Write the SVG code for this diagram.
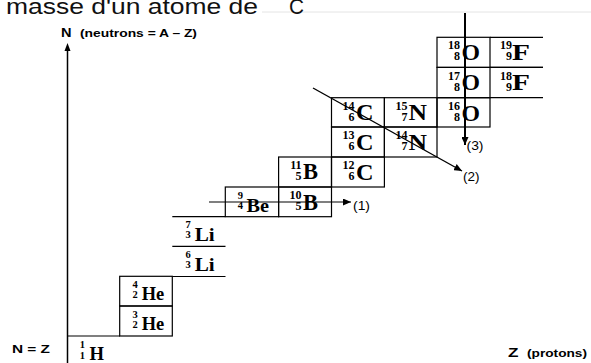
<svg xmlns="http://www.w3.org/2000/svg" width="591" height="363" viewBox="0 0 591 363">
<style>
.g{fill:none;stroke:#000;stroke-width:1.2}
.n{font-family:"Liberation Serif",serif;font-weight:bold;font-size:10.5px;text-anchor:end;fill:#000}
.m{font-family:"Liberation Serif",serif;font-weight:bold;font-size:12px;text-anchor:end;fill:#000}
.s{font-family:"Liberation Serif",serif;font-weight:bold;font-size:18px;fill:#000}
.L{font-family:"Liberation Serif",serif;font-weight:bold;font-size:23px;fill:#000}
.a{font-family:"Liberation Sans",Arial,sans-serif;font-weight:bold;fill:#000}
.lab{font-family:"Liberation Sans",Arial,sans-serif;font-size:13px;fill:#000}
.c{stroke:#000;fill:none}
</style>
<defs>
<marker id="ah" markerUnits="userSpaceOnUse" markerWidth="9" markerHeight="7" refX="8" refY="3.5" orient="auto">
<path d="M0,0 L8,3.5 L0,7 Z" fill="#000"/>
</marker>
</defs>
<rect width="591" height="363" fill="#fff"/>
<g id="title">
<line x1="262" y1="12" x2="591" y2="12" stroke="#e4e4e4" stroke-width="1"/>
<text x="6" y="13.5" font-family="Liberation Sans,Arial,sans-serif" font-size="22" fill="#111" textLength="252" lengthAdjust="spacingAndGlyphs">masse d'un atome de</text>
<text x="289" y="13.5" font-family="Liberation Sans,Arial,sans-serif" font-size="22" fill="#111" textLength="15" lengthAdjust="spacingAndGlyphs">C</text>
</g>
<g id="axes">
<line x1="67.5" y1="48" x2="67.5" y2="363" stroke="#000" stroke-width="1.5"/>
<path d="M67.5,43 L70.5,51 L64.5,51 Z" fill="#000"/>
<text class="a" x="61" y="36.5" font-size="12.5" textLength="10.5" lengthAdjust="spacingAndGlyphs">N</text>
<text class="a" x="80" y="36.5" font-size="10.5" textLength="117" lengthAdjust="spacingAndGlyphs">(neutrons = A – Z)</text>
<text class="a" x="12" y="353" font-size="11.6" textLength="38" lengthAdjust="spacingAndGlyphs">N = Z</text>
<text class="a" x="508" y="357" font-size="12.6" textLength="10.5" lengthAdjust="spacingAndGlyphs">Z</text>
<text class="a" x="527" y="357" font-size="10.7" textLength="60" lengthAdjust="spacingAndGlyphs">(protons)</text>
</g>
<g id="H1">
<line class="g" x1="67" y1="336" x2="120" y2="336"/>
<text class="n" x="85" y="347.5">1</text><text class="n" x="85" y="358.5">1</text>
<text class="s" x="89.5" y="360" textLength="14.5" lengthAdjust="spacingAndGlyphs">H</text>
</g>
<g id="He3">
<rect class="g" x="119.7" y="306" width="52.6" height="30"/>
<text class="n" x="137.7" y="317.5">3</text><text class="n" x="137.7" y="327.5">2</text>
<text class="s" x="141.7" y="330" textLength="22.5" lengthAdjust="spacingAndGlyphs">He</text>
</g>
<g id="He4">
<rect class="g" x="119.7" y="276.3" width="52.6" height="29.7"/>
<text class="n" x="137.7" y="287.5">4</text><text class="n" x="137.7" y="297.5">2</text>
<text class="s" x="141.7" y="300" textLength="22.5" lengthAdjust="spacingAndGlyphs">He</text>
</g>
<g id="Li6">
<line class="g" x1="172.3" y1="246.3" x2="225.5" y2="246.3" stroke-width="1"/>
<line class="g" x1="172.3" y1="276.5" x2="225.5" y2="276.5" stroke-width="2"/>
<text class="n" x="190.7" y="257.8">6</text><text class="n" x="190.7" y="267.8">3</text>
<text class="s" x="194.7" y="270.5" textLength="20" lengthAdjust="spacingAndGlyphs">Li</text>
</g>
<g id="Li7">
<line class="g" x1="172.3" y1="216.7" x2="225.5" y2="216.7" stroke-width="2"/>
<text class="n" x="190.7" y="228.2">7</text><text class="n" x="190.7" y="238.2">3</text>
<text class="s" x="194.7" y="240.7" textLength="20" lengthAdjust="spacingAndGlyphs">Li</text>
</g>
<g id="Be9">
<rect class="g" x="225.3" y="187" width="53.3" height="29.7"/>
<text class="n" x="243" y="198.5">9</text><text class="n" x="243" y="209">4</text>
<text class="s" x="246.5" y="212" textLength="22.5" lengthAdjust="spacingAndGlyphs">Be</text>
</g>
<g id="B10">
<rect class="g" x="278.6" y="187" width="52.9" height="29.7"/>
<text class="m" x="301.6" y="199">10</text><text class="m" x="301.6" y="210">5</text>
<text class="L" x="303.1" y="209.5" textLength="15" lengthAdjust="spacingAndGlyphs">B</text>
</g>
<g id="B11">
<rect class="g" x="278.6" y="157" width="52.9" height="30"/>
<text class="m" x="301.6" y="169">11</text><text class="m" x="301.6" y="179.5">5</text>
<text class="L" x="303.1" y="179" textLength="15" lengthAdjust="spacingAndGlyphs">B</text>
</g>
<g id="C12">
<rect class="g" x="331.5" y="157" width="52.9" height="30"/>
<text class="m" x="354.5" y="169">12</text><text class="m" x="354.5" y="180">6</text>
<text class="L" x="356" y="179.5" textLength="17.5" lengthAdjust="spacingAndGlyphs">C</text>
</g>
<g id="C13">
<rect class="g" x="331.5" y="127" width="52.9" height="30"/>
<text class="m" x="354.5" y="139">13</text><text class="m" x="354.5" y="150">6</text>
<text class="L" x="356" y="149.5" textLength="17.5" lengthAdjust="spacingAndGlyphs">C</text>
</g>
<g id="C14">
<rect class="g" x="331.5" y="97.7" width="52.9" height="29.3"/>
<text class="m" x="354.5" y="109.5">14</text><text class="m" x="354.5" y="120.5">6</text>
<text class="L" x="356" y="120" textLength="17.5" lengthAdjust="spacingAndGlyphs">C</text>
</g>
<g id="N14">
<rect class="g" x="384.4" y="127" width="52.6" height="30"/>
<text class="m" x="407.4" y="139">14</text><text class="m" x="407.4" y="150">7</text>
<text class="L" x="408.4" y="149.5" textLength="18.5" lengthAdjust="spacingAndGlyphs">N</text>
</g>
<g id="N15">
<rect class="g" x="384.4" y="97.7" width="52.6" height="29.3"/>
<text class="m" x="407.4" y="109.5">15</text><text class="m" x="407.4" y="120.5">7</text>
<text class="L" x="408.4" y="120" textLength="18.5" lengthAdjust="spacingAndGlyphs">N</text>
</g>
<g id="O16">
<rect class="g" x="437" y="97.7" width="53" height="29.3"/>
<text class="m" x="460" y="109.5">16</text><text class="m" x="460" y="121">8</text>
<text class="L" x="461.5" y="120.5" textLength="18.5" lengthAdjust="spacingAndGlyphs">O</text>
</g>
<g id="O17">
<rect class="g" x="437" y="67.4" width="53" height="30.3"/>
<text class="m" x="460" y="79.5">17</text><text class="m" x="460" y="90.5">8</text>
<text class="L" x="461.5" y="90" textLength="18.5" lengthAdjust="spacingAndGlyphs">O</text>
</g>
<g id="O18">
<rect class="g" x="437" y="37.3" width="53" height="30.1"/>
<text class="m" x="460" y="49">18</text><text class="m" x="460" y="60">8</text>
<text class="L" x="461.5" y="59.5" textLength="18.5" lengthAdjust="spacingAndGlyphs">O</text>
</g>
<g id="F18">
<path class="g" d="M490,67.4 H543 M490,97.7 H543"/>
<text class="m" x="512" y="79.5">18</text><text class="m" x="512" y="90.5">9</text>
<text class="L" x="512" y="90" textLength="18" lengthAdjust="spacingAndGlyphs">F</text>
</g>
<g id="F19">
<path class="g" d="M490,37.3 H543 M490,67.4 H543"/>
<text class="m" x="512" y="49">19</text><text class="m" x="512" y="60">9</text>
<text class="L" x="512" y="59.5" textLength="18" lengthAdjust="spacingAndGlyphs">F</text>
</g>
<g id="connectors">
<line class="c" x1="209" y1="202" x2="351" y2="202" stroke-width="1.2" marker-end="url(#ah)"/>
<line class="c" x1="313" y1="88" x2="462" y2="171" stroke-width="1.4" marker-end="url(#ah)"/>
<line class="c" x1="465" y1="13" x2="465" y2="145" stroke-width="2" marker-end="url(#ah)"/>
<text class="lab" x="353" y="209.5" textLength="17" lengthAdjust="spacingAndGlyphs">(1)</text>
<text class="lab" x="463" y="181" textLength="16.5" lengthAdjust="spacingAndGlyphs">(2)</text>
<text class="lab" x="466.5" y="150" textLength="17" lengthAdjust="spacingAndGlyphs">(3)</text>
</g>
</svg>
